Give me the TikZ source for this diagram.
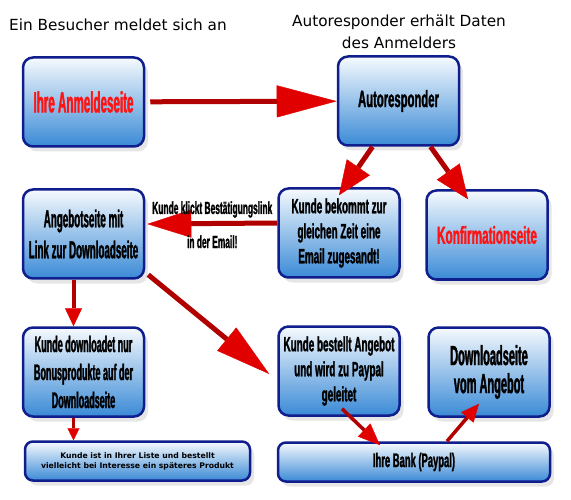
\documentclass[tikz,border=0pt]{standalone}
\usepackage{fontspec}
\setmainfont{DejaVu Sans}
\newfontfamily\impactfont[FakeStretch=0.48, FakeBold=1.3]{Liberation Sans}
\newfontfamily\tallfont[FakeStretch=0.4, FakeBold=1.3]{Liberation Sans}
\usepackage{xcolor}
\usetikzlibrary{arrows.meta, shadows}
\definecolor{boxTop}{HTML}{F6FAFE}
\definecolor{boxBlue}{HTML}{3A8AD6}
\definecolor{boxBorder}{HTML}{0F1E8C}
\definecolor{shaftRed}{HTML}{B00000}
\definecolor{headRed}{HTML}{E00000}
\definecolor{textRed}{HTML}{FF1414}

\begin{document}
\begin{tikzpicture}[x=1pt, y=-1pt,
      box/.style={draw=boxBorder, line width=2.5pt, rounded corners=10pt,
                  top color=boxTop, bottom color=boxBlue,
                  minimum width=121pt, minimum height=89pt, align=center,
                  inner sep=2pt, font=\impactfont\bfseries\fontsize{20.6}{25}\selectfont,
                  drop shadow={opacity=0.2, shadow xshift=4pt, shadow yshift=-5pt}},
      flatbox/.style={box, rounded corners=8pt, minimum height=39pt},
      bigtxt/.style 2 args={font=\tallfont\bfseries\fontsize{#1}{#2}\selectfont},
      title/.style={align=center, font=\fontsize{15.3}{22}\selectfont},
      lbl/.style={font=\impactfont\bfseries\fontsize{17.5}{18}\selectfont},
      arr/.style 2 args={draw=shaftRed, line width=5pt,
                  -{Triangle[length=#1, width=#2, line width=0.4pt, color=headRed]}}
    ]
    \useasboundingbox (0,0) rectangle (571,500);
    % titles
    \node[title] (t1) at (118,25) {Ein Besucher meldet sich an};
    \node[title] (t2) at (399,32) {Autoresponder erhält Daten\\des Anmelders};
    % boxes
    \node[box, text=textRed, bigtxt={29}{30}] (anm) at (83.5,102) {Ihre Anmeldeseite};
    \node[box, font=\impactfont\bfseries\fontsize{23.5}{25}\selectfont]
          (auto) at (398.5,101) {Autoresponder};
    \node[box, bigtxt={24.5}{31}] (angebot) at (83.5,234) {Angebotseite mit\\Link zur Downloadseite};
    \node[box] (email) at (339,233) {Kunde bekommt zur\\gleichen Zeit eine\\Email zugesandt!};
    \node[box, text=textRed, font=\impactfont\bfseries\fontsize{24.5}{25}\selectfont]
          (konf) at (487,235) {Konfirmationseite};
    \node[box, bigtxt={22.5}{28}] (dlnur) at (83.5,372) {Kunde downloadet nur\\Bonusprodukte auf der\\Downloadseite};
    \node[box] (bestellt) at (339,371) {Kunde bestellt Angebot\\und wird zu Paypal\\geleitet};
    \node[box, bigtxt={27.5}{28}] (dlangebot) at (489,372) {Downloadseite\\vom Angebot};
    \node[flatbox, minimum width=225pt, font=\bfseries\fontsize{7.7}{10}\selectfont]
          (liste) at (137.5,461) {Kunde ist in Ihrer Liste und bestellt\\vielleicht bei Interesse ein späteres Produkt};
    \node[flatbox, minimum width=272pt, font=\impactfont\bfseries\fontsize{19.6}{20}\selectfont]
          (bank) at (414,462) {Ihre Bank (Paypal)};
    % arrows
    \draw[arr={60pt}{32pt}, shorten <=5pt] (anm) -- (auto);
    \draw[arr={34pt}{28pt}] ([xshift=-26pt]auto.south) -- ([yshift=-8pt]email.north);
    \draw[arr={34pt}{28pt}] ([xshift=32pt]auto.south) -- ([xshift=-19pt, yshift=-10pt]konf.north);
    \draw[arr={44pt}{28pt}] ([yshift=10pt]email.west) -- ([xshift=2pt, yshift=10pt]angebot.east)
          node[lbl, midway, above=0pt] {Kunde klickt Bestätigungslink}
          node[lbl, midway, below=6pt] {in der Email!};
    \draw[arr={18pt}{17pt}, line width=4pt] ([xshift=-10pt]angebot.south) -- ([xshift=-10pt]dlnur.north);
    \draw[arr={55pt}{30pt}] ([xshift=3pt, yshift=5pt]angebot.south east) -- ([xshift=-8pt, yshift=-3pt]bestellt.west);
    \draw[arr={12pt}{12pt}, line width=3.5pt] ([xshift=-10pt]dlnur.south) -- ([xshift=-64pt]liste.north);
    \draw[arr={22pt}{18pt}, line width=3.5pt] ([xshift=3pt, yshift=8pt]bestellt.south) -- ([xshift=-34pt, yshift=-4pt]bank.north);
    \draw[arr={18pt}{16pt}, line width=3.5pt] ([xshift=33pt]bank.north) -- ([xshift=-10pt, yshift=14pt]dlangebot.south);
  \end{tikzpicture}
\end{document}
